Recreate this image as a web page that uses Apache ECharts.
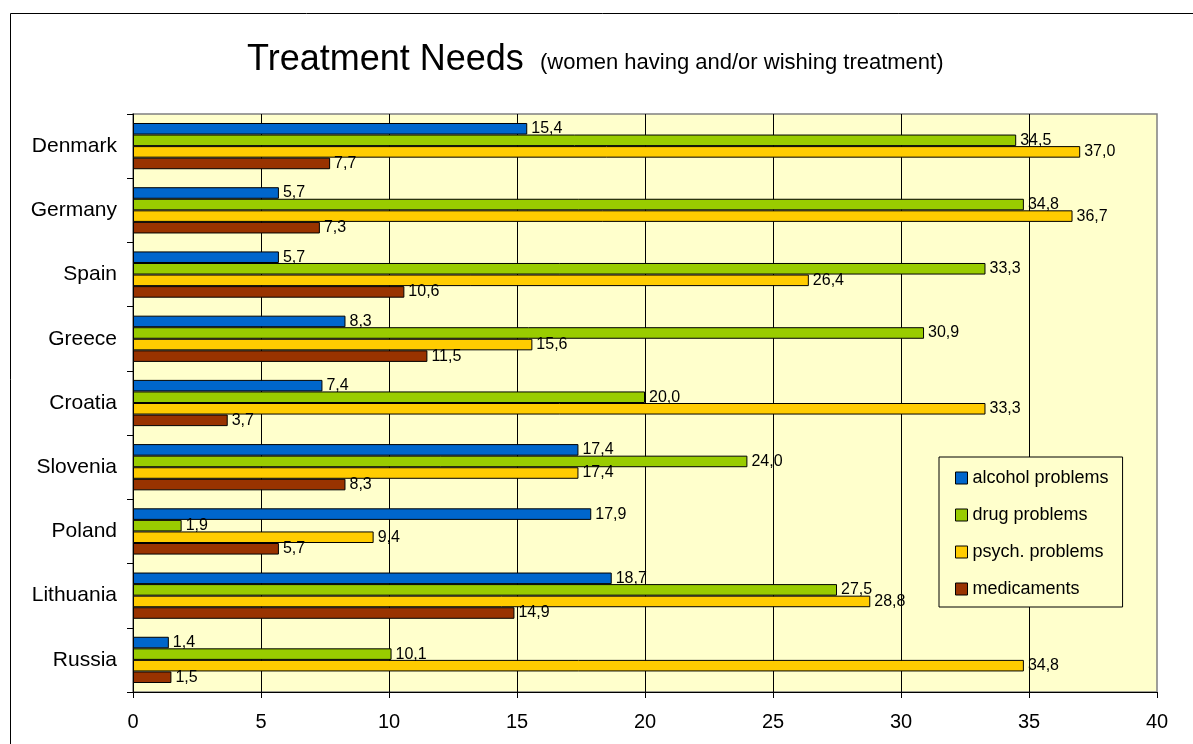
<!DOCTYPE html>
<html>
<head>
<meta charset="utf-8">
<title>Treatment Needs</title>
<script src="https://cdn.jsdelivr.net/npm/echarts@6/dist/echarts.min.js"></script>
<style>
  html, body { margin: 0; padding: 0; background: #ffffff; }
  #chart { width: 1193px; height: 744px; }
</style>
</head>
<body>
<div id="chart"></div>
<script>
// Countries, top to bottom
const countries = ['Denmark', 'Germany', 'Spain', 'Greece', 'Croatia', 'Slovenia', 'Poland', 'Lithuania', 'Russia'];

// Share of women having and/or wishing treatment (%)
const alcoholProblems = [15.4, 5.7, 5.7, 8.3, 7.4, 17.4, 17.9, 18.7, 1.4];
const drugProblems    = [34.5, 34.8, 33.3, 30.9, 20.0, 24.0, 1.9, 27.5, 10.1];
const psychProblems   = [37.0, 36.7, 26.4, 15.6, 33.3, 17.4, 9.4, 28.8, 34.8];
const medicaments     = [7.7, 7.3, 10.6, 11.5, 3.7, 8.3, 5.7, 14.9, 1.5];

const seriesNames  = ['alcohol problems', 'drug problems', 'psych. problems', 'medicaments'];
const seriesValues = [alcoholProblems, drugProblems, psychProblems, medicaments];
const seriesColors = ['#0066CC', '#99CC00', '#FFCC00', '#993300'];

const FONT = '"Liberation Sans", Arial, sans-serif';

const chart = echarts.init(document.getElementById('chart'), null, { renderer: 'canvas' });

const series = seriesNames.map((name, i) => ({
  name: name,
  type: 'bar',
  data: seriesValues[i],
  barGap: '0%',
  barCategoryGap: '28%',
  itemStyle: { color: seriesColors[i], borderColor: '#000', borderWidth: 1 },
  label: {
    show: true,
    position: 'right',
    distance: 4,
    color: '#000',
    fontFamily: FONT,
    fontSize: 16,
    formatter: p => p.value.toFixed(1).replace('.', ',')
  },
  emphasis: { disabled: true },
  animation: false
}));

chart.setOption({
  animation: false,
  backgroundColor: '#ffffff',
  textStyle: { fontFamily: FONT },
  graphic: [
    {
      type: 'rect',
      shape: { x: 10.5, y: 13.5, width: 1400, height: 1000 },
      style: { fill: null, stroke: '#000', lineWidth: 1 },
      silent: true
    },
    {
      type: 'text',
      x: 247, y: 60.5,
      style: { text: 'Treatment Needs', font: '36px ' + FONT, fill: '#000', textVerticalAlign: 'middle' },
      silent: true
    },
    {
      type: 'text',
      x: 540, y: 63,
      style: { text: '(women having and/or wishing treatment)', font: '22px ' + FONT, fill: '#000', textVerticalAlign: 'middle' },
      silent: true
    }
  ],
  grid: {
    left: 133, top: 114, width: 1024, height: 578,
    show: true,
    backgroundColor: '#FFFFCC',
    borderColor: '#808080',
    borderWidth: 1.5
  },
  legend: {
    orient: 'vertical',
    left: 939, top: 457,
    padding: [12, 14, 9, 16],
    backgroundColor: '#FFFFCC',
    borderColor: '#000',
    borderWidth: 1,
    borderRadius: 0,
    icon: 'rect',
    itemWidth: 12,
    itemHeight: 12,
    itemGap: 19,
    itemStyle: { borderColor: '#000', borderWidth: 1 },
    textStyle: { fontFamily: FONT, fontSize: 18, color: '#000', lineHeight: 18 },
    data: seriesNames
  },
  xAxis: {
    type: 'value',
    min: 0, max: 40, interval: 5,
    axisLine: { show: true, lineStyle: { color: '#000', width: 1 } },
    axisTick: { show: true, length: 6, lineStyle: { color: '#000' } },
    axisLabel: { color: '#000', fontFamily: FONT, fontSize: 20, margin: 20 },
    splitLine: { show: true, showMinLine: false, showMaxLine: false, lineStyle: { color: '#000', width: 1 } }
  },
  yAxis: {
    type: 'category',
    inverse: true,
    data: countries,
    axisLine: { show: true, lineStyle: { color: '#000', width: 1 } },
    axisTick: { show: true, length: 6, lineStyle: { color: '#000' } },
    axisLabel: { color: '#000', fontFamily: FONT, fontSize: 21, margin: 16 },
    splitLine: { show: false }
  },
  series: series
});
</script>
</body>
</html>
